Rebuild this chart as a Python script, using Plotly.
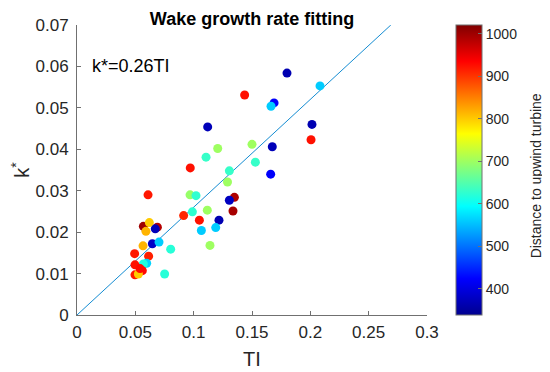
import plotly.graph_objects as go

# Data
ti = [0.0609, 0.0971, 0.1106, 0.0969, 0.1020, 0.1117, 0.0989, 0.0914, 0.1049, 0.1217,
      0.1066, 0.1189, 0.1140, 0.0569, 0.0620, 0.0689, 0.0671, 0.0591, 0.0646, 0.0703,
      0.0803, 0.0566, 0.0494, 0.0614, 0.0597, 0.0569, 0.0497, 0.0560, 0.0497, 0.0526,
      0.0751, 0.1800, 0.1437, 0.1689, 0.1663, 0.1120, 0.2014, 0.2006, 0.2083, 0.1500,
      0.1674, 0.1206, 0.1529, 0.1306, 0.1660, 0.1290, 0.1349, 0.1306, 0.1337, 0.0540]
kstar = [0.0290, 0.0355, 0.0381, 0.0290, 0.0288, 0.0253, 0.0249, 0.0240, 0.0229, 0.0229,
         0.0204, 0.0211, 0.0168, 0.0214, 0.0223, 0.0212, 0.0208, 0.0202, 0.0172, 0.0176,
         0.0159, 0.0167, 0.0148, 0.0142, 0.0125, 0.0123, 0.0121, 0.0107, 0.0097, 0.0099,
         0.0099, 0.0584, 0.0531, 0.0512, 0.0504, 0.0454, 0.0460, 0.0423, 0.0553, 0.0412,
         0.0406, 0.0402, 0.0369, 0.0348, 0.0340, 0.0321, 0.0284, 0.0277, 0.0251, 0.0112]
distance = [920, 925, 630, 695, 625, 700, 625, 910, 925, 365,
            560, 560, 700, 1000, 800, 985, 370, 815, 380, 560,
            620, 815, 920, 915, 565, 615, 925, 930, 920, 800,
            620, 365, 925, 420, 560, 370, 365, 925, 560, 700,
            370, 700, 630, 630, 420, 700, 990, 375, 995, 930]

fit_x = [0.0, 0.269]
fit_y = [0.0, 0.0700]

x_ticks = [0, 0.05, 0.1, 0.15, 0.2, 0.25, 0.3]
x_tick_text = ["0", "0.05", "0.1", "0.15", "0.2", "0.25", "0.3"]
y_ticks = [0, 0.01, 0.02, 0.03, 0.04, 0.05, 0.06, 0.07]
y_tick_text = ["0", "0.01", "0.02", "0.03", "0.04", "0.05", "0.06", "0.07"]
cb_ticks = [400, 500, 600, 700, 800, 900, 1000]

jet = [[0.0, "rgb(0,0,143)"], [0.125, "rgb(0,0,255)"], [0.375, "rgb(0,255,255)"],
       [0.625, "rgb(255,255,0)"], [0.875, "rgb(255,0,0)"], [1.0, "rgb(128,0,0)"]]

FONT = "Liberation Sans, Arial, sans-serif"
TXT = "#262626"
AX = "#707070"

W, H = 542, 364
ML, MR, MT, MB = 69, 123, 17, 57

fig = go.Figure()
fig.add_trace(go.Scatter(
    x=fit_x, y=fit_y, mode="lines",
    line=dict(color="rgb(20,140,210)", width=1),
    showlegend=False, hoverinfo="skip"))
fig.add_trace(go.Scatter(
    x=ti, y=kstar, mode="markers",
    marker=dict(size=9, color=distance, colorscale=jet, cmin=338, cmax=1021,
                line=dict(width=0),
                colorbar=dict(
                    x=1.083, xanchor="left", xpad=0, y=0.5, yanchor="middle",
                    len=1.0, lenmode="fraction", ypad=0,
                    thickness=26, outlinecolor=AX, outlinewidth=1,
                    tickvals=cb_ticks, ticks="inside", ticklen=4, tickcolor=AX,
                    tickfont=dict(family=FONT, size=14, color=TXT))),
    showlegend=False))

fig.add_annotation(x=0.011, y=0.060, xref="x", yref="y", text="k*=0.26TI",
                   showarrow=False, xanchor="left", yanchor="middle",
                   font=dict(family=FONT, size=18, color="black"))

fig.add_annotation(x=1.311, y=0.481, xref="paper", yref="paper",
                   text="Distance to upwind turbine", textangle=-90,
                   showarrow=False, xanchor="center", yanchor="middle",
                   font=dict(family=FONT, size=14, color=TXT))

fig.update_layout(
    width=W, height=H,
    margin=dict(l=ML, r=MR, t=MT, b=MB, autoexpand=False),
    paper_bgcolor="white", plot_bgcolor="white",
    title=dict(text="<b>Wake growth rate fitting</b>",
               x=(ML + (W - ML - MR) / 2) / W, xanchor="center",
               y=1 - 11 / H, yanchor="middle",
               font=dict(family=FONT, size=18, color="black")),
    xaxis=dict(range=[0, 0.3], tickvals=x_ticks, ticktext=x_tick_text,
               showgrid=False, zeroline=False, showline=True, linecolor=AX, linewidth=1,
               ticks="inside", ticklen=4, tickcolor=AX, ticklabelstandoff=2,
               tickfont=dict(family=FONT, size=17, color=TXT),
               title=dict(text="TI", font=dict(family=FONT, size=20, color=TXT), standoff=10)),
    yaxis=dict(range=[0, 0.07], tickvals=y_ticks, ticktext=y_tick_text,
               showgrid=False, zeroline=False, showline=True, linecolor=AX, linewidth=1,
               ticks="inside", ticklen=4, tickcolor=AX, ticklabelstandoff=4,
               tickfont=dict(family=FONT, size=17, color=TXT),
               title=dict(text="k<sup>*</sup>", font=dict(family=FONT, size=20, color=TXT), standoff=5)),
)

fig.write_html("out.html")
